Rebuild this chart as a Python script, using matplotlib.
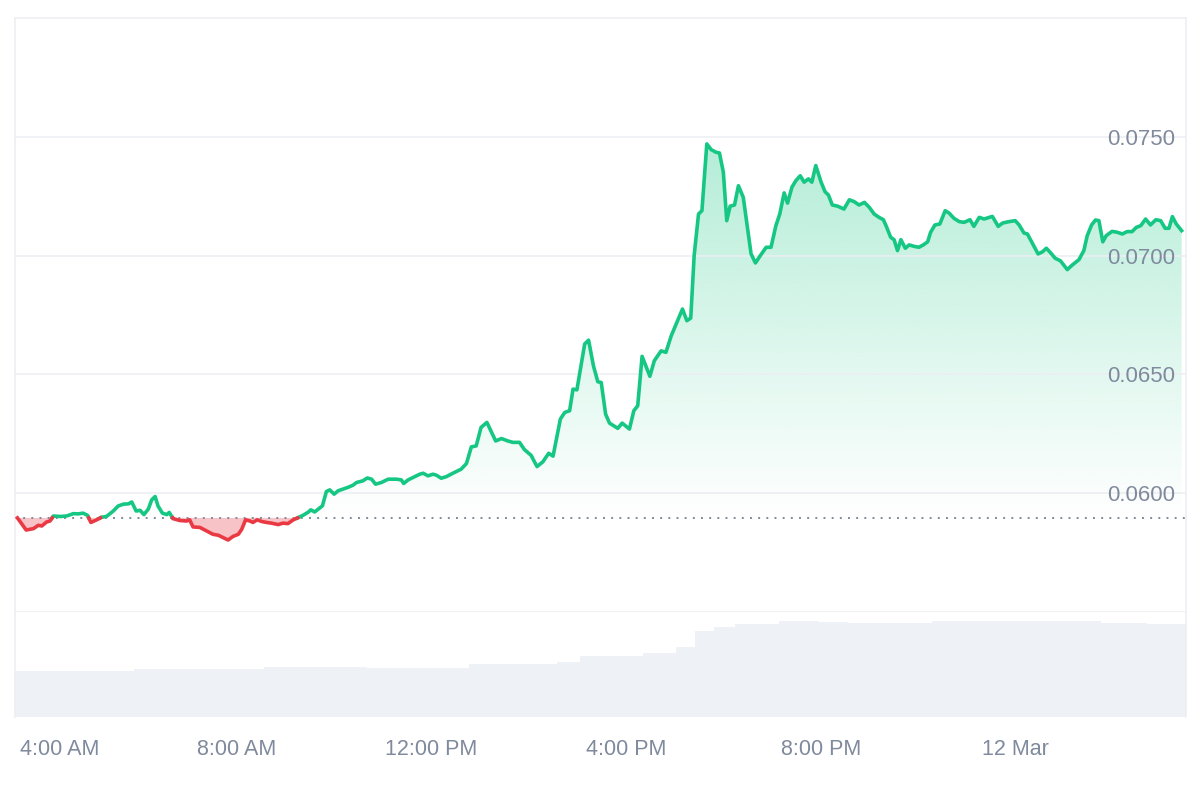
import numpy as np
import matplotlib
matplotlib.use("Agg")
import matplotlib.pyplot as plt
from matplotlib.path import Path
from matplotlib.patches import PathPatch
from matplotlib.colors import to_rgb
from matplotlib.transforms import ScaledTranslation

plt.rcParams["font.family"] = ["Liberation Sans", "DejaVu Sans"]

# hours since 00:00 on 11 Mar (values above 24 fall on 12 Mar)
hours = [
    3.49, 3.67, 3.82, 3.92, 3.99, 4.09, 4.16, 4.23, 4.37, 4.50,
    4.64, 4.74, 4.84, 4.93, 5.00, 5.12, 5.22, 5.32, 5.46, 5.56,
    5.67, 5.77, 5.84, 5.93, 6.01, 6.09, 6.18, 6.25, 6.32, 6.38,
    6.47, 6.56, 6.61, 6.69, 6.83, 6.97, 7.03, 7.10, 7.24, 7.38,
    7.51, 7.62, 7.72, 7.82, 7.92, 8.03, 8.10, 8.18, 8.27, 8.33,
    8.42, 8.51, 8.61, 8.71, 8.85, 8.95, 9.05, 9.16, 9.26, 9.36,
    9.46, 9.52, 9.60, 9.70, 9.76, 9.84, 9.91, 10.00, 10.08, 10.18,
    10.29, 10.39, 10.46, 10.59, 10.68, 10.77, 10.85, 10.97, 11.11, 11.28,
    11.38, 11.43, 11.52, 11.62, 11.76, 11.83, 11.93, 12.03, 12.10, 12.20,
    12.31, 12.44, 12.61, 12.72, 12.82, 12.92, 13.02, 13.14, 13.32, 13.44,
    13.57, 13.67, 13.81, 13.91, 14.05, 14.17, 14.29, 14.41, 14.50, 14.65,
    14.74, 14.84, 14.91, 14.99, 15.15, 15.23, 15.33, 15.42, 15.49, 15.58,
    15.66, 15.83, 15.92, 16.07, 16.16, 16.24, 16.33, 16.49, 16.58, 16.72,
    16.82, 16.93, 17.06, 17.16, 17.25, 17.33, 17.40, 17.49, 17.56, 17.66,
    17.75, 17.85, 17.92, 18.00, 18.07, 18.14, 18.23, 18.31, 18.41, 18.50,
    18.57, 18.66, 18.75, 18.88, 18.98, 19.08, 19.16, 19.25, 19.32, 19.41,
    19.49, 19.58, 19.66, 19.75, 19.82, 19.90, 20.01, 20.09, 20.16, 20.24,
    20.35, 20.48, 20.59, 20.69, 20.79, 20.90, 21.00, 21.10, 21.20, 21.29,
    21.35, 21.44, 21.51, 21.58, 21.65, 21.74, 21.82, 21.92, 22.02, 22.11,
    22.20, 22.26, 22.35, 22.45, 22.56, 22.64, 22.74, 22.85, 22.95, 23.07,
    23.15, 23.26, 23.36, 23.53, 23.65, 23.74, 23.87, 24.00, 24.08, 24.18,
    24.25, 24.35, 24.47, 24.56, 24.64, 24.73, 24.82, 24.93, 25.07, 25.17,
    25.31, 25.41, 25.48, 25.57, 25.65, 25.72, 25.80, 25.87, 25.99, 26.10,
    26.20, 26.30, 26.40, 26.49, 26.58, 26.68, 26.78, 26.89, 26.99, 27.08,
    27.16, 27.23, 27.31, 27.42,
]
price = [
    0.05896, 0.05845, 0.05851, 0.05865, 0.05862, 0.05879, 0.05883, 0.05904, 0.05902, 0.05904,
    0.05914, 0.05913, 0.05916, 0.05907, 0.05877, 0.05888, 0.05899, 0.05902, 0.05925, 0.05946,
    0.05954, 0.05955, 0.05963, 0.05925, 0.05928, 0.05910, 0.05933, 0.05972, 0.05986, 0.05946,
    0.05916, 0.05910, 0.05919, 0.05893, 0.05885, 0.05883, 0.05888, 0.05858, 0.05856, 0.05841,
    0.05827, 0.05823, 0.05813, 0.05803, 0.05818, 0.05827, 0.05848, 0.05888, 0.05883, 0.05877,
    0.05888, 0.05881, 0.05877, 0.05874, 0.05868, 0.05874, 0.05872, 0.05888, 0.05897, 0.05907,
    0.05919, 0.05930, 0.05921, 0.05937, 0.05947, 0.06007, 0.06014, 0.05996, 0.06010, 0.06017,
    0.06025, 0.06034, 0.06045, 0.06052, 0.06064, 0.06059, 0.06038, 0.06045, 0.06059, 0.06059,
    0.06056, 0.06041, 0.06056, 0.06066, 0.06080, 0.06084, 0.06073, 0.06080, 0.06076, 0.06063,
    0.06070, 0.06084, 0.06101, 0.06125, 0.06195, 0.06199, 0.06277, 0.06298, 0.06220, 0.06230,
    0.06220, 0.06214, 0.06214, 0.06184, 0.06159, 0.06112, 0.06132, 0.06168, 0.06156, 0.06312,
    0.06340, 0.06347, 0.06438, 0.06435, 0.06628, 0.06644, 0.06536, 0.06469, 0.06466, 0.06333,
    0.06295, 0.06273, 0.06295, 0.06270, 0.06347, 0.06368, 0.06576, 0.06492, 0.06557, 0.06599,
    0.06593, 0.06663, 0.06726, 0.06775, 0.06726, 0.06737, 0.07000, 0.07175, 0.07189, 0.07470,
    0.07446, 0.07435, 0.07432, 0.07351, 0.07147, 0.07208, 0.07213, 0.07294, 0.07245, 0.07112,
    0.07007, 0.06969, 0.06997, 0.07035, 0.07035, 0.07126, 0.07175, 0.07264, 0.07221, 0.07288,
    0.07315, 0.07336, 0.07309, 0.07323, 0.07309, 0.07379, 0.07309, 0.07269, 0.07255, 0.07213,
    0.07208, 0.07196, 0.07235, 0.07227, 0.07213, 0.07224, 0.07203, 0.07175, 0.07161, 0.07151,
    0.07123, 0.07077, 0.07067, 0.07021, 0.07067, 0.07031, 0.07045, 0.07039, 0.07035, 0.07045,
    0.07058, 0.07098, 0.07129, 0.07133, 0.07189, 0.07179, 0.07157, 0.07143, 0.07140, 0.07151,
    0.07123, 0.07161, 0.07154, 0.07165, 0.07123, 0.07137, 0.07143, 0.07147, 0.07129, 0.07095,
    0.07091, 0.07053, 0.07007, 0.07016, 0.07031, 0.07011, 0.06989, 0.06978, 0.06941, 0.06960,
    0.06983, 0.07021, 0.07084, 0.07129, 0.07150, 0.07147, 0.07058, 0.07084, 0.07102, 0.07098,
    0.07091, 0.07101, 0.07101, 0.07119, 0.07126, 0.07154, 0.07129, 0.07151, 0.07147, 0.07115,
    0.07115, 0.07164, 0.07133, 0.07105,
]

# volume steps (start hour of each step, arbitrary units)
vol_hours = [3.44, 5.88, 8.55, 10.67, 12.78, 14.59, 15.06, 16.34, 17.03, 17.42,
             17.81, 18.23, 19.15, 19.95, 20.57, 22.29, 25.76, 26.71, 27.51]
volume = [5.3, 5.5, 5.75, 5.55, 6.05, 6.3, 6.95, 7.35, 8.0, 9.8,
          10.3, 10.6, 11.0, 10.9, 10.8, 11.0, 10.8, 10.6, 10.6]

tick_hours = [4, 8, 12, 16, 20, 24]
tick_labels = ["4:00 AM", "8:00 AM", "12:00 PM", "4:00 PM", "8:00 PM", "12 Mar"]
price_ticks = [0.0600, 0.0650, 0.0700, 0.0750]

green = "#16c784"
red = "#ea3943"
grey = "#808a9d"
rule = "#eceff2"

t = np.array(hours)
p = np.array(price)
base = p[0]

# add the points where the line crosses the open price, so colours switch cleanly
tt, pp = [t[0]], [p[0]]
for i in range(1, len(t)):
    a, b = p[i - 1] - base, p[i] - base
    if a * b < 0:
        f = a / (a - b)
        tt.append(t[i - 1] + f * (t[i] - t[i - 1]))
        pp.append(base)
    tt.append(t[i])
    pp.append(p[i])
tt, pp = np.array(tt), np.array(pp)
up = np.where(pp >= base, pp, np.nan)
dn = np.where(pp <= base, pp, np.nan)

fig = plt.figure(figsize=(12, 8), dpi=100)
x0, x1 = 15 / 1200, 1186 / 1200
ax = fig.add_axes([x0, 1 - 612 / 800, x1 - x0, (612 - 18) / 800])
axv = fig.add_axes([x0, 1 - 717 / 800, x1 - x0, 105 / 800], sharex=ax)

xlim = (3.44, 27.51)
ylim = (0.0550, 0.0800)

# green gradient area above the open price
poly = ax.fill_between(tt, base, pp, where=pp >= base, interpolate=True,
                       facecolor="none", edgecolor="none")
clip = Path.make_compound_path(*poly.get_paths())
grad = np.zeros((256, 1, 4))
grad[..., :3] = to_rgb(green)
grad[:, 0, 3] = np.linspace(0.32, 0.0, 256)
im = ax.imshow(grad, extent=[xlim[0], xlim[1], base, p.max()], origin="upper",
               aspect="auto", zorder=1, interpolation="bilinear")
im.set_clip_path(PathPatch(clip, transform=ax.transData))

# red area below the open price
ax.fill_between(tt, pp, base, where=pp <= base, interpolate=True,
                color=red, alpha=0.3, lw=0, zorder=1)

ax.axhline(base, color=grey, lw=1.4, ls=(0, (1, 3.2)), zorder=2)
ax.plot(tt, up, color=green, lw=2.6, zorder=3, solid_joinstyle="round")
ax.plot(tt, dn, color=red, lw=2.6, zorder=3, solid_joinstyle="round")

ax.set_xlim(*xlim)
ax.set_ylim(*ylim)
ax.set_yticks(price_ticks, [f"{v:.4f}" for v in price_ticks])
ax.yaxis.tick_right()
ax.tick_params(axis="y", length=0, pad=-8, labelsize=16, labelcolor=grey)
for lab in ax.get_yticklabels():
    lab.set_horizontalalignment("right")
ax.grid(axis="y", color=rule, lw=1.2, zorder=0)
ax.tick_params(axis="x", bottom=False, labelbottom=False)
for s in ax.spines.values():
    s.set_color(rule)
    s.set_linewidth(1.2)

# volume panel
axv.fill_between(vol_hours, 0, volume, step="post", color="#eef1f5", lw=0)
axv.set_ylim(0, 12)
axv.set_yticks([])
axv.set_xticks(tick_hours, tick_labels)
axv.tick_params(axis="x", length=0, pad=16, labelsize=15.5, labelcolor=grey)
for s in ["top", "bottom"]:
    axv.spines[s].set_visible(False)
for s in ["left", "right"]:
    axv.spines[s].set_color(rule)
    axv.spines[s].set_linewidth(1.2)
first = axv.get_xticklabels()[0]
first.set_transform(first.get_transform() + ScaledTranslation(0.17, 0, fig.dpi_scale_trans))

fig.savefig("out.png", dpi=100)
